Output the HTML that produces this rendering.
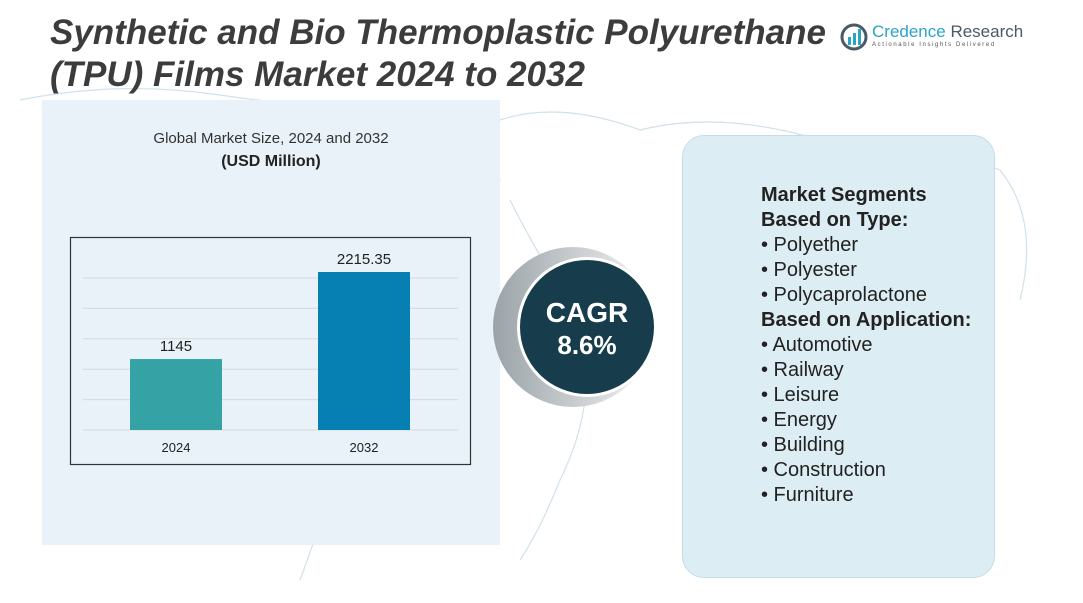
<!DOCTYPE html>
<html><head><meta charset="utf-8"><style>
body{margin:0;width:1083px;height:603px;overflow:hidden;background:#fff;font-family:"Liberation Sans",sans-serif;position:relative}
.abs{position:absolute}
</style></head><body>
<svg class="abs" style="left:0;top:0" width="1083" height="603">
<g fill="none" stroke="#cfe2ea" stroke-width="1.2">
<path d="M20 100 Q120 80 220 95 T420 110 Q480 130 500 180 Q470 260 420 300 Q380 330 350 420 Q330 500 300 580"/>
<path d="M500 120 Q560 100 640 130 Q720 110 820 140 Q900 130 1000 170 Q1040 220 1020 300"/>
<path d="M510 200 Q540 260 580 320 Q600 400 560 480 Q540 530 520 560"/>
<path d="M60 300 Q120 330 180 360 Q220 420 260 480"/>
</g></svg>
<div class="abs" style="left:42px;top:100px;width:458px;height:445px;background:#e8f2f8"></div>
<div class="abs" style="left:50px;top:12px;font-size:35px;font-weight:bold;font-style:italic;color:#3c3c3c;line-height:42px">Synthetic and Bio Thermoplastic Polyurethane<br>(TPU) Films Market 2024 to 2032</div>
<div class="abs" style="left:840px;top:20px;width:180px;height:34px">
<svg width="28" height="28" style="position:absolute;left:0;top:3px"><circle cx="14" cy="14" r="12" fill="none" stroke="#4a5a66" stroke-width="3"/><rect x="8" y="14" width="3" height="8" fill="#2aa3c8"/><rect x="13" y="10" width="3" height="12" fill="#2aa3c8"/><rect x="18" y="6" width="3" height="16" fill="#2aa3c8"/></svg>
<div style="position:absolute;left:32px;top:2px;font-size:17px;color:#2aa3c8;white-space:nowrap">Credence <span style="color:#4a5a66">Research</span></div>
<div style="position:absolute;left:32px;top:22px;font-size:6px;letter-spacing:1.6px;color:#555;white-space:nowrap">Actionable Insights Delivered</div>
</div>
<div class="abs" style="left:42px;top:130px;width:458px;text-align:center;font-size:15px;color:#333">Global Market Size, 2024 and 2032</div>
<div class="abs" style="left:42px;top:153px;width:458px;text-align:center;font-size:16px;font-weight:bold;color:#222">(USD Million)</div>
<svg class="abs" style="left:0;top:0" width="1083" height="603" id="chart">
<rect x="70.5" y="237.5" width="400" height="227" fill="none" stroke="#333" stroke-width="1.2"/>
</svg>
<svg class="abs" style="left:480px;top:240px" width="200" height="180">
<defs><linearGradient id="g" x1="0" x2="1"><stop offset="0" stop-color="#9aa3a8"/><stop offset="1" stop-color="#f4f4f4"/></linearGradient></defs>
<circle cx="93" cy="87" r="80" fill="url(#g)"/>
<circle cx="107" cy="87" r="70" fill="#fff"/>
<circle cx="107" cy="87" r="67" fill="#173d4d"/>
<text x="107" y="82" text-anchor="middle" font-size="28" font-weight="bold" fill="#fff" font-family="Liberation Sans, sans-serif">CAGR</text>
<text x="107" y="114" text-anchor="middle" font-size="26" font-weight="bold" fill="#fff" font-family="Liberation Sans, sans-serif">8.6%</text>
</svg>
<div class="abs" style="left:682px;top:135px;width:311px;height:441px;background:#ddedf4;border:1px solid #c4dce8;border-radius:22px"></div>
<div class="abs" style="left:761px;top:183px;font-size:20px;line-height:25px;color:#222">
<div style="font-weight:bold">Market Segments</div>
<div style="font-weight:bold">Based on Type:</div>
<div>• Polyether</div><div>• Polyester</div><div>• Polycaprolactone</div>
<div style="font-weight:bold">Based on Application:</div>
<div>• Automotive</div><div>• Railway</div><div>• Leisure</div><div>• Energy</div><div>• Building</div><div>• Construction</div><div>• Furniture</div>
</div>
<script>
const categories=["2024","2032"];
const values=[1145,2215.35];
const labels=["1145","2215.35"];
const colors=["#35a3a5","#0680b2"];
const svg=document.getElementById('chart');
const NS="http://www.w3.org/2000/svg";
const base=430, k=0.0813, vmin=272;
const y=v=>base-(v-vmin)*k;
const xs=[130,318], bw=92;
for(let i=0;i<6;i++){const l=document.createElementNS(NS,'line');


const gy=430-i*30.4;l.setAttribute('x1',83);l.setAttribute('x2',458);l.setAttribute('y1',gy);l.setAttribute('y2',gy);l.setAttribute('stroke','#d8d8d8');svg.appendChild(l);}
categories.forEach((c,i)=>{
const r=document.createElementNS(NS,'rect');


r.setAttribute('x',xs[i]);r.setAttribute('width',bw);r.setAttribute('y',y(values[i]));r.setAttribute('height',base-y(values[i]));r.setAttribute('fill',colors[i]);svg.appendChild(r);
const t=document.createElementNS(NS,'text');


t.setAttribute('x',xs[i]+bw/2);t.setAttribute('y',y(values[i])-8);t.setAttribute('text-anchor','middle');t.setAttribute('font-size','15');t.setAttribute('fill','#222');t.textContent=labels[i];svg.appendChild(t);
const a=document.createElementNS(NS,'text');


a.setAttribute('x',xs[i]+bw/2);a.setAttribute('y',452);a.setAttribute('text-anchor','middle');a.setAttribute('font-size','13');a.setAttribute('fill','#222');a.textContent=c;svg.appendChild(a);
});
</script>
</body></html>
